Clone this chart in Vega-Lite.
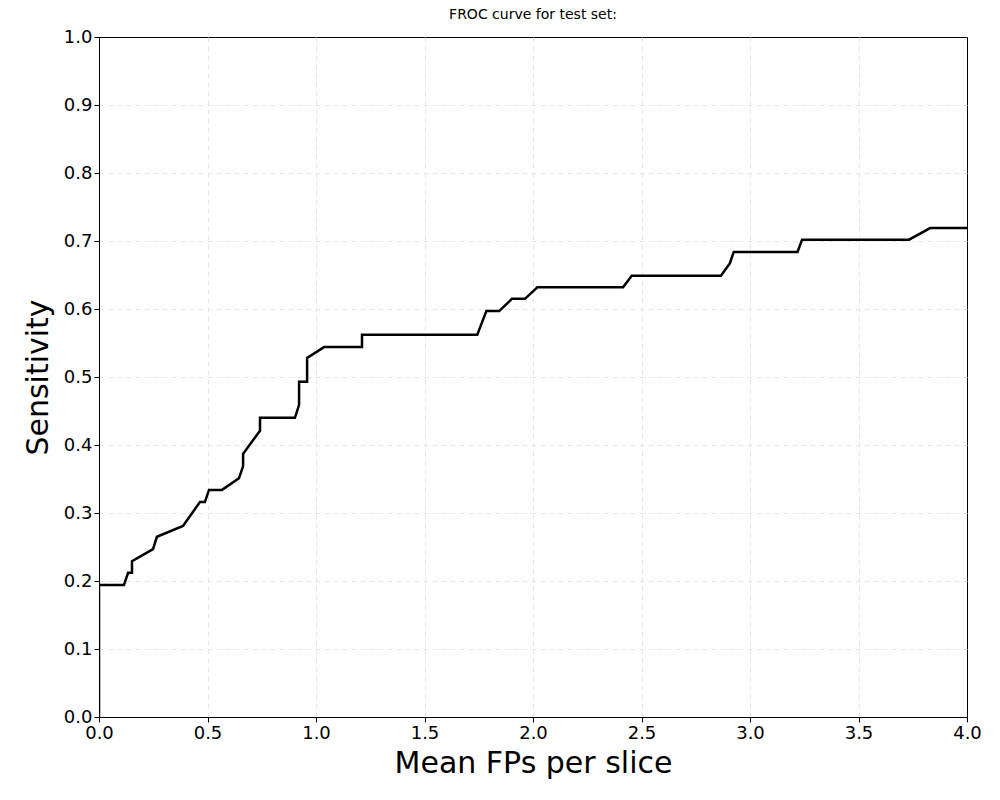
{
  "$schema": "https://vega.github.io/schema/vega-lite/v6.json",
  "width": 868,
  "height": 680,
  "autosize": {"type": "none"},
  "padding": {"left": 99, "top": 37, "right": 33, "bottom": 83},
  "title": {"text": "FROC curve for test set:", "fontSize": 14, "fontWeight": "normal", "font": "DejaVu Sans", "color": "black", "offset": 6},
  "config": {
    "font": "DejaVu Sans",
    "view": {"stroke": "black", "strokeWidth": 1},
    "axis": {
      "labelFontSize": 18, "titleFontSize": 30, "titleFontWeight": "normal",
      "labelColor": "black", "titleColor": "black", "labelFlush": false,
      "domainColor": "black", "tickColor": "black", "tickSize": 5,
      "gridColor": "#e6e6e6", "gridDash": [5, 4], "gridWidth": 1
    }
  },
  "data": {
    "values": [
      {"fp": 0, "s": 0},
      {"fp": 0, "s": 0.194},
      {"fp": 0.115, "s": 0.194},
      {"fp": 0.134, "s": 0.212},
      {"fp": 0.152, "s": 0.212},
      {"fp": 0.152, "s": 0.229},
      {"fp": 0.249, "s": 0.247},
      {"fp": 0.267, "s": 0.265},
      {"fp": 0.387, "s": 0.281},
      {"fp": 0.465, "s": 0.316},
      {"fp": 0.488, "s": 0.316},
      {"fp": 0.507, "s": 0.334},
      {"fp": 0.567, "s": 0.334},
      {"fp": 0.645, "s": 0.351},
      {"fp": 0.664, "s": 0.369},
      {"fp": 0.664, "s": 0.387},
      {"fp": 0.742, "s": 0.421},
      {"fp": 0.742, "s": 0.44},
      {"fp": 0.903, "s": 0.44},
      {"fp": 0.922, "s": 0.459},
      {"fp": 0.922, "s": 0.493},
      {"fp": 0.959, "s": 0.493},
      {"fp": 0.959, "s": 0.528},
      {"fp": 1.037, "s": 0.544},
      {"fp": 1.212, "s": 0.544},
      {"fp": 1.212, "s": 0.562},
      {"fp": 1.743, "s": 0.562},
      {"fp": 1.785, "s": 0.597},
      {"fp": 1.844, "s": 0.597},
      {"fp": 1.903, "s": 0.615},
      {"fp": 1.963, "s": 0.615},
      {"fp": 2.02, "s": 0.632},
      {"fp": 2.415, "s": 0.632},
      {"fp": 2.455, "s": 0.649},
      {"fp": 2.866, "s": 0.649},
      {"fp": 2.907, "s": 0.667},
      {"fp": 2.925, "s": 0.684},
      {"fp": 3.219, "s": 0.684},
      {"fp": 3.24, "s": 0.702},
      {"fp": 3.733, "s": 0.702},
      {"fp": 3.83, "s": 0.719},
      {"fp": 4.0, "s": 0.719}
    ]
  },
  "transform": [{"window": [{"op": "row_number", "as": "row"}]}],
  "mark": {"type": "line", "color": "black", "strokeWidth": 2.5, "clip": true},
  "encoding": {
    "order": {"field": "row", "type": "quantitative"},
    "x": {
      "field": "fp", "type": "quantitative", "title": "Mean FPs per slice",
      "scale": {"domain": [0, 4], "nice": false},
      "axis": {
        "values": [0, 0.5, 1, 1.5, 2, 2.5, 3, 3.5, 4], "format": ".1f", "titlePadding": 6,
        "gridOpacity": {"condition": {"test": "datum.value == 4 || datum.value == 0", "value": 0}, "value": 1}
      }
    },
    "y": {
      "field": "s", "type": "quantitative", "title": "Sensitivity",
      "scale": {"domain": [0, 1], "nice": false},
      "axis": {
        "values": [0, 0.1, 0.2, 0.3, 0.4, 0.5, 0.6, 0.7, 0.8, 0.9, 1], "format": ".1f", "titlePadding": 10,
        "gridOpacity": {"condition": {"test": "datum.value == 1 || datum.value == 0", "value": 0}, "value": 1}
      }
    }
  }
}
